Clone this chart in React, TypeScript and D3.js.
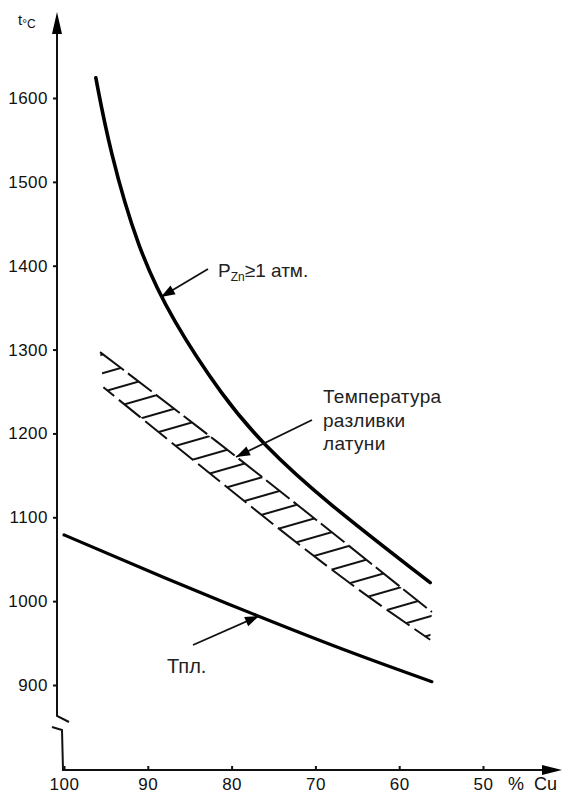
import { useEffect, useRef } from "react";
import * as d3 from "d3";

// values (% Cu on x, °C on y)
const pznCu = [96.2, 94.6, 91.2, 87.1, 81.0, 76.25, 69.1, 56.3];
const pznT = [1624, 1540, 1420, 1335, 1243, 1187, 1121, 1022];

const meltCu = [100, 88, 77, 66, 56.1];
const meltT = [1079, 1028, 983, 940, 904];

const pourTopCu = [95.7, 83.8, 71.8, 56.1];
const pourTopT = [1297, 1206, 1112, 987];
const pourBotCu = [95.3, 83.8, 68.5, 56.3];
const pourBotT = [1255, 1162, 1041, 954];

const yTicks = [900, 1000, 1100, 1200, 1300, 1400, 1500, 1600];
const xTicks = [100, 90, 80, 70, 60, 50];

const FONT = "'Liberation Sans', Arial, sans-serif";

export default function App() {
    const svgRef = useRef<SVGSVGElement | null>(null);

    const width = 562;
    const height = 794;

    useEffect(() => {
        const svg = d3.select(svgRef.current);
        svg.selectAll("*").remove();

        const x = d3.scaleLinear().domain([100, 50]).range([64, 483]);
        const y = d3.scaleLinear().domain([900, 1600]).range([685, 98]);

        const axisX = 61;
        const baseY = 770;

        const defs = svg.append("defs");
        const pat = defs.append("pattern")
            .attr("id", "hatch")
            .attr("patternUnits", "userSpaceOnUse")
            .attr("width", 40)
            .attr("height", 18)
            .attr("patternTransform", "rotate(-16)");
        pat.append("line")
            .attr("x1", 0).attr("x2", 40)
            .attr("y1", 9).attr("y2", 9)
            .attr("stroke", "#111")
            .attr("stroke-width", 2);

        const line = d3.line<[number, number]>()
            .x(d => x(d[0]))
            .y(d => y(d[1]))
            .curve(d3.curveNatural);
        const smooth = d3.line<[number, number]>()
            .x(d => x(d[0]))
            .y(d => y(d[1]))
            .curve(d3.curveBasis);

        // hatched band (pouring temperature)
        const top: [number, number][] = pourTopCu.map((c, i) => [c, pourTopT[i]]);
        const bot: [number, number][] = pourBotCu.map((c, i) => [c, pourBotT[i]]);
        svg.append("clipPath").attr("id", "bandClip")
            .append("path")
            .attr("d", () => {
                const pts = top.map(d => [x(d[0]), y(d[1])] as [number, number])
                    .concat(bot.slice().reverse().map(d => [x(d[0]), y(d[1])] as [number, number]));
                return d3.line()(pts) + "Z";
            });
        svg.append("rect")
            .attr("x", 60).attr("y", 300).attr("width", 420).attr("height", 380)
            .attr("fill", "url(#hatch)")
            .attr("clip-path", "url(#bandClip)");
        svg.append("path")
            .attr("d", line(top))
            .attr("fill", "none")
            .attr("stroke", "#111")
            .attr("stroke-width", 2)
            .attr("stroke-dasharray", "30 5");
        svg.append("path")
            .attr("d", line(bot))
            .attr("fill", "none")
            .attr("stroke", "#111")
            .attr("stroke-width", 2)
            .attr("stroke-dasharray", "28 6")
            .attr("stroke-dashoffset", 14);

        // P_Zn >= 1 atm curve
        svg.append("path")
            .attr("d", smooth(pznCu.map((c, i) => [c, pznT[i]] as [number, number])))
            .attr("fill", "none")
            .attr("stroke", "#000")
            .attr("stroke-width", 3.6)
            .attr("stroke-linecap", "round");

        // melting curve
        svg.append("path")
            .attr("d", line(meltCu.map((c, i) => [c, meltT[i]] as [number, number])))
            .attr("fill", "none")
            .attr("stroke", "#000")
            .attr("stroke-width", 3.2)
            .attr("stroke-linecap", "round");

        // axes
        const ax = svg.append("g").attr("stroke", "#111").attr("stroke-width", 2).attr("fill", "none");
        ax.append("path").attr("d", `M${axisX - 4},22 L${axisX - 4},716 L${axisX + 8},722`);
        ax.append("path").attr("d", `M${axisX - 9},727 L${axisX + 1},730 L${axisX + 2},${baseY} L548,${baseY}`);
        svg.append("path")
            .attr("d", `M${axisX - 4},12 L${axisX - 9},34 L${axisX + 1},34 Z`)
            .attr("fill", "#000");
        svg.append("path")
            .attr("d", `M562,${baseY} L542,${baseY - 5} L542,${baseY + 5} Z`)
            .attr("fill", "#000");

        const yAxis = svg.append("g")
            .attr("transform", `translate(${axisX - 4},0)`)
            .call(d3.axisLeft(y).tickValues(yTicks).tickSize(4).tickFormat(d3.format("d")));
        yAxis.select(".domain").remove();
        yAxis.selectAll("line").attr("stroke", "#111").attr("stroke-width", 2);
        yAxis.selectAll("text")
            .attr("x", -9)
            .style("font-family", FONT)
            .style("font-size", "17px")
            .style("letter-spacing", "0.5px")
            .attr("fill", "#111");

        const xAxis = svg.append("g")
            .attr("transform", `translate(0,${baseY})`)
            .call(d3.axisTop(x).tickValues(xTicks).tickSize(4).tickFormat(d3.format("d")));
        xAxis.select(".domain").remove();
        xAxis.selectAll("line").attr("stroke", "#111").attr("stroke-width", 2);
        xAxis.selectAll("text")
            .attr("y", 20)
            .attr("dy", 0)
            .style("font-family", FONT)
            .style("font-size", "17px")
            .style("letter-spacing", "0.5px")
            .attr("fill", "#111");

        svg.append("text")
            .attr("x", 508).attr("y", 790)
            .style("font-family", FONT).style("font-size", "18px").attr("fill", "#111")
            .text("%");
        svg.append("text")
            .attr("x", 534).attr("y", 790)
            .style("font-family", FONT).style("font-size", "18px").attr("fill", "#111")
            .text("Cu");

        const tl = svg.append("text")
            .attr("x", 18).attr("y", 25)
            .style("font-family", FONT).attr("fill", "#111");
        tl.append("tspan").style("font-size", "15px").text("t");
        tl.append("tspan").style("font-size", "12px").attr("dy", 3).text("°C");

        // annotations
        const arrow = (x1: number, y1: number, x2: number, y2: number) => {
            svg.append("line")
                .attr("x1", x1).attr("y1", y1).attr("x2", x2).attr("y2", y2)
                .attr("stroke", "#111").attr("stroke-width", 1.8);
            const a = Math.atan2(y2 - y1, x2 - x1);
            const L = 14, W = 5;
            const bx = x2 - L * Math.cos(a), by = y2 - L * Math.sin(a);
            svg.append("path")
                .attr("d", `M${x2},${y2} L${bx + W * Math.sin(a)},${by - W * Math.cos(a)} L${bx - W * Math.sin(a)},${by + W * Math.cos(a)} Z`)
                .attr("fill", "#000");
        };
        arrow(208, 269, 161, 297);
        arrow(312, 420, 236, 457);
        arrow(193, 645, 259, 616);

        const p = svg.append("text")
            .attr("x", 218).attr("y", 277)
            .style("font-family", FONT).attr("fill", "#222");
        p.append("tspan").style("font-size", "19px").text("P");
        p.append("tspan").style("font-size", "12px").attr("dy", 4).text("Zn");
        p.append("tspan").style("font-size", "19px").attr("dy", -4).text("≥1 атм.");

        const lbl = ["Температура", "разливки", "латуни"];
        lbl.forEach((t, i) => {
            svg.append("text")
                .attr("x", 323).attr("y", 403 + i * 23.5)
                .style("font-family", FONT).style("font-size", "19px")
                .style("letter-spacing", "0.3px").attr("fill", "#222")
                .text(t);
        });

        svg.append("text")
            .attr("x", 167).attr("y", 673)
            .style("font-family", FONT).style("font-size", "20px").attr("fill", "#222")
            .text("Тпл.");
    }, []);

    return (
        <svg ref={svgRef} width={width} height={height}
            style={{ position: "absolute", left: 0, top: 0, background: "#fff" }} />
    );
}
